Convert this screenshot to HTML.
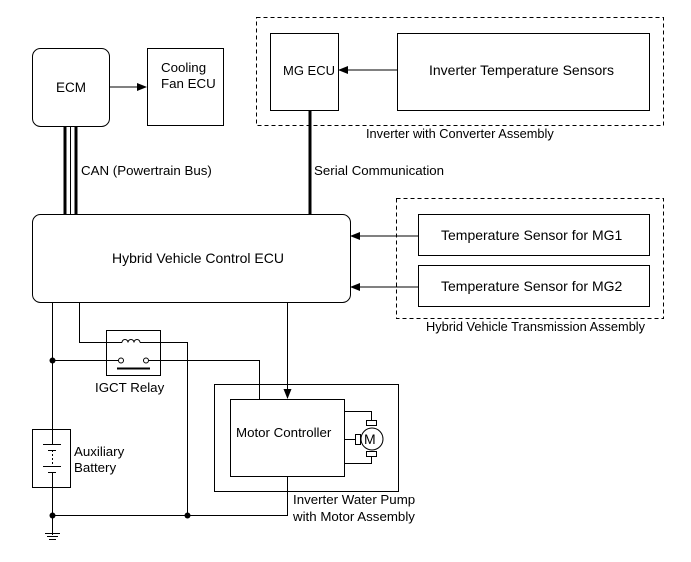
<!DOCTYPE html>
<html><head><style>
body{margin:0;background:#fff}
svg{display:block;font-family:"Liberation Sans",Arial,sans-serif;font-size:13.3px}
</style></head><body>
<svg width="691" height="562" viewBox="0 0 691 562" xmlns="http://www.w3.org/2000/svg">
<defs><marker id="a" markerWidth="10" markerHeight="8" refX="9" refY="4" orient="auto" markerUnits="userSpaceOnUse"><path d="M0,0 L10,4 L0,8z" fill="#000"/></marker></defs>
<g fill="none" stroke="#000" stroke-width="1">
<rect x="32.5" y="48.5" width="77" height="78" rx="8"/>
<rect x="147.5" y="48.5" width="76" height="77"/>
<line x1="110" y1="87" x2="146" y2="87" marker-end="url(#a)"/>
<rect x="256.5" y="17.5" width="407" height="108" stroke-dasharray="4,3"/>
<rect x="270.5" y="33.5" width="68" height="77"/>
<rect x="397.5" y="33.5" width="252" height="77"/>
<line x1="397" y1="70" x2="339" y2="70" marker-end="url(#a)"/>
<line x1="310" y1="110" x2="310" y2="214" stroke-width="3"/>
<line x1="65" y1="126" x2="65" y2="214" stroke-width="3"/>
<line x1="70.5" y1="126" x2="70.5" y2="214"/>
<line x1="76" y1="126" x2="76" y2="214" stroke-width="3"/>
<rect x="32.5" y="214.5" width="318" height="88" rx="8"/>
<rect x="396.5" y="198.5" width="267" height="120" stroke-dasharray="4,3"/>
<rect x="418.5" y="214.5" width="231" height="41"/>
<rect x="418.5" y="265.5" width="231" height="41"/>
<line x1="418" y1="236" x2="351" y2="236" marker-end="url(#a)"/>
<line x1="418" y1="287" x2="351" y2="287" marker-end="url(#a)"/>
<polyline points="52.5,303 52.5,429"/>
<polyline points="52.5,487 52.5,535"/>
<rect x="32.5" y="429.5" width="38" height="58"/>
<line x1="43" y1="444.5" x2="61" y2="444.5"/><line x1="48" y1="450.5" x2="56" y2="450.5"/>
<line x1="52.5" y1="450" x2="52.5" y2="466" stroke-dasharray="2,2"/>
<line x1="43" y1="466.5" x2="61" y2="466.5"/><line x1="48" y1="472.5" x2="56" y2="472.5"/>
<line x1="52.5" y1="429" x2="52.5" y2="444"/><line x1="52.5" y1="472" x2="52.5" y2="487"/>
<line x1="45" y1="533.5" x2="60" y2="533.5"/><line x1="47" y1="536.5" x2="58" y2="536.5"/><line x1="49" y1="539.5" x2="56" y2="539.5"/>
<rect x="106.5" y="330.5" width="54" height="45"/>
<polyline points="79.5,303 79.5,342.5 122,342.5"/>
<path d="M122,342.5 a3,3 0 0 1 6,0 a3,3 0 0 1 6,0 a3,3 0 0 1 6,0"/>
<polyline points="140,342.5 187.5,342.5 187.5,515.5"/>
<polyline points="52.5,360.5 118,360.5"/>
<circle cx="121" cy="360.5" r="2.5"/><circle cx="146" cy="360.5" r="2.5"/>
<polyline points="149,360.5 259.5,360.5 259.5,399"/>
<line x1="117" y1="368.5" x2="150" y2="368.5" stroke-width="2"/>
<rect x="214.5" y="384.5" width="184" height="107"/>
<rect x="230.5" y="399.5" width="114" height="77"/>
<line x1="287.5" y1="303" x2="287.5" y2="398" marker-end="url(#a)"/>
<polyline points="52.5,515.5 287.5,515.5 287.5,477"/>
<polyline points="344,411.5 371.5,411.5 371.5,420"/>
<polyline points="344,463.5 371.5,463.5 371.5,456"/>
<line x1="344" y1="439.5" x2="355" y2="439.5"/>
<rect x="366.5" y="420.5" width="10" height="5"/><rect x="366.5" y="451.5" width="10" height="5"/>
<rect x="355.5" y="434.5" width="5" height="10"/>
<circle cx="372" cy="439" r="11" fill="#fff"/>
</g>
<g fill="#000">
<circle cx="52.5" cy="360.5" r="3"/><circle cx="52.5" cy="515.5" r="3"/><circle cx="187.5" cy="515.5" r="3"/>
<text x="56" y="92" font-size="13.5px">ECM</text>
<text x="161" y="72">Cooling</text><text x="161" y="88">Fan ECU</text>
<text x="283" y="75" font-size="13px">MG ECU</text>
<g font-size="14px">
<text x="429" y="75">Inverter Temperature Sensors</text>
<text x="112" y="263">Hybrid Vehicle Control ECU</text>
<text x="441" y="240">Temperature Sensor for MG1</text>
<text x="441" y="291">Temperature Sensor for MG2</text>
</g>
<text x="366" y="138" font-size="12.8px">Inverter with Converter Assembly</text>
<text x="81" y="175">CAN (Powertrain Bus)</text>
<text x="314" y="175">Serial Communication</text>
<text x="426" y="331" font-size="12.8px">Hybrid Vehicle Transmission Assembly</text>
<text x="95" y="392">IGCT Relay</text>
<text x="74" y="456">Auxiliary</text><text x="74" y="472">Battery</text>
<text x="236" y="437">Motor Controller</text>
<text x="364" y="444" font-size="14">M</text>
<text x="293" y="504">Inverter Water Pump</text>
<text x="293" y="521">with Motor Assembly</text>
</g>
</svg>
</body></html>
